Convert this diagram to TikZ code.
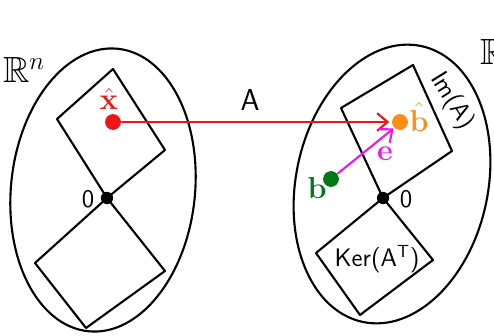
\documentclass[tikz,border=0pt]{standalone}
\usepackage{amssymb}
\usetikzlibrary{arrows.meta}
\begin{document}
\begin{tikzpicture}[x=0.02cm,y=-0.02cm,line width=1.2pt,line join=round,line cap=round,
  every node/.style={font=\sffamily\Large},
  dot/.style={circle,fill,inner sep=0pt,minimum size=#1},
  lbl/.style={inner sep=1pt}]
\useasboundingbox (0,0) rectangle (494,335);
\definecolor{myred}{RGB}{240,20,20}
\definecolor{myorange}{RGB}{255,140,20}
\definecolor{mygreen}{RGB}{0,120,20}
\definecolor{mymag}{RGB}{240,20,240}
% ellipses
\draw[rotate around={-6:(103,190)}] (103,190) ellipse [x radius=92, y radius=142];
\draw[rotate around={-12:(392,184)}] (392,184) ellipse [x radius=96, y radius=141];
% left subspaces
\draw (107,198) -- (57,119) -- (113,69) -- (165,150) -- cycle;
\draw (107,198) -- (35,263) -- (86,328) -- (165,271) -- cycle;
% right subspaces
\draw (383,198) -- (341,108) -- (413,65) -- (452,151) -- cycle;
\draw (383,198) -- (316,253) -- (360,315) -- (433,260) -- cycle;
% origins
\node[dot=7pt] (o1) at (107,198) {};
\node[dot=7pt] (o2) at (383,198) {};
\node[lbl] at (88,199) {0};
\node[lbl] at (406,199) {0};
% labels
\node[lbl,font=\sffamily\huge] at (24,70) {$\mathbb{R}^n$};
\node[lbl,anchor=west,font=\sffamily\huge] at (478,52) {$\mathbb{R}^m$};
\node[lbl,font=\sffamily\LARGE] at (250,100) {A};
\node[lbl,rotate=-58] at (452,101) {Im(A)};
\node[lbl] at (377,259) {Ker(A$^{\mathsf{T}}$)};
% points
\node[dot=9pt,myred] (xh) at (113,122) {};
\node[lbl,myred,font=\LARGE] at (109,99) {$\hat{\mathbf{x}}$};
\node[dot=9pt,myorange] (bh) at (400,122) {};
\node[lbl,myorange,font=\LARGE] at (419,117) {$\hat{\mathbf{b}}$};
\node[dot=9pt,mygreen] (bb) at (331,179) {};
\node[lbl,mygreen,font=\LARGE] at (317,188) {\textbf{b}};
\node[lbl,mymag,font=\LARGE] at (385,154) {\textbf{e}};
% arrows
\draw[myred,-{Straight Barb[length=6pt,width=10pt]}] (xh) -- ([xshift=-1pt]bh.west);
\draw[mymag,-{Straight Barb[length=6pt,width=10pt]}] (bb) -- (bh.south west);
\end{tikzpicture}
\end{document}
